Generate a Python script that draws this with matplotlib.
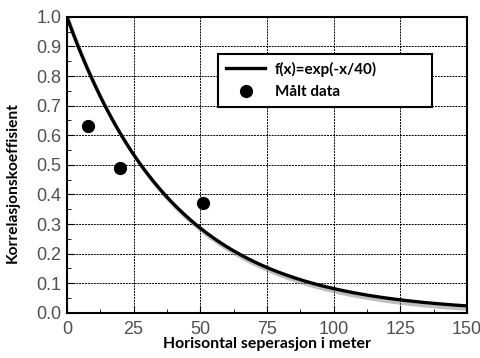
import numpy as np
import matplotlib
matplotlib.use("Agg")
import matplotlib.pyplot as plt
import matplotlib.patheffects as pe
from matplotlib.ticker import MultipleLocator

# målte data
avstand = [8, 20, 51]
korrelasjon = [0.63, 0.49, 0.37]

x = np.linspace(0, 150, 400)
y = np.exp(-x / 40)

fig = plt.figure(figsize=(4.81, 3.58), dpi=100)
ax = fig.add_axes([0.139, 0.126, 0.832, 0.827])

ax.plot(x, y, color="black", lw=2.4, label="f(x)=exp(-x/40)",
        path_effects=[pe.SimpleLineShadow(offset=(1.5, -2.5), shadow_color="gray", alpha=0.5),
                      pe.Normal()])
ax.plot(avstand, korrelasjon, "o", color="black", ms=8.5, label="Målt data")

ax.set_xlim(0, 150)
ax.set_ylim(0, 1.0)
ax.xaxis.set_major_locator(MultipleLocator(25))
ax.xaxis.set_minor_locator(MultipleLocator(12.5))
ax.yaxis.set_major_locator(MultipleLocator(0.1))
ax.yaxis.set_minor_locator(MultipleLocator(0.05))
ax.yaxis.set_major_formatter(matplotlib.ticker.FormatStrFormatter("%.1f"))
ax.grid(True, which="major", color="black", ls=(0, (2, 1)), lw=0.7)
ax.tick_params(which="both", direction="in", labelsize=13, labelcolor="#505050",
               labelfontfamily="Liberation Sans")
ax.tick_params(which="major", length=5)
ax.tick_params(which="minor", length=3)
ax.tick_params(axis="x", pad=6)
ax.tick_params(axis="y", pad=4)
for s in ax.spines.values():
    s.set_linewidth(1.5)

ax.set_xlabel("Horisontal seperasjon i meter", fontsize=11.4, fontweight="bold",
              family="Lato", labelpad=-1)
ax.set_ylabel("Korrelasjonskoeffisient", fontsize=11.2, fontweight="bold",
              family="Lato")
ax.yaxis.set_label_coords(-0.117, 0.44)

# legende uten skygge
ax.legend(handles=[plt.Line2D([], [], color="black", lw=2.4),
                   plt.Line2D([], [], marker="o", ls="", color="black", ms=8.5)],
          labels=["f(x)=exp(-x/40)", "Målt data"],
          loc="upper left", bbox_to_anchor=(0.378, 0.874, 0.535, 0), mode="expand",
          frameon=True, fancybox=False, edgecolor="black", framealpha=1,
          prop={"family": "Lato", "weight": "bold", "size": 11},
          handlelength=2.6, borderpad=0.5, labelspacing=0.55,
          handletextpad=0.6, borderaxespad=0).get_frame().set_linewidth(1.5)

fig.savefig("out.png", dpi=100)
